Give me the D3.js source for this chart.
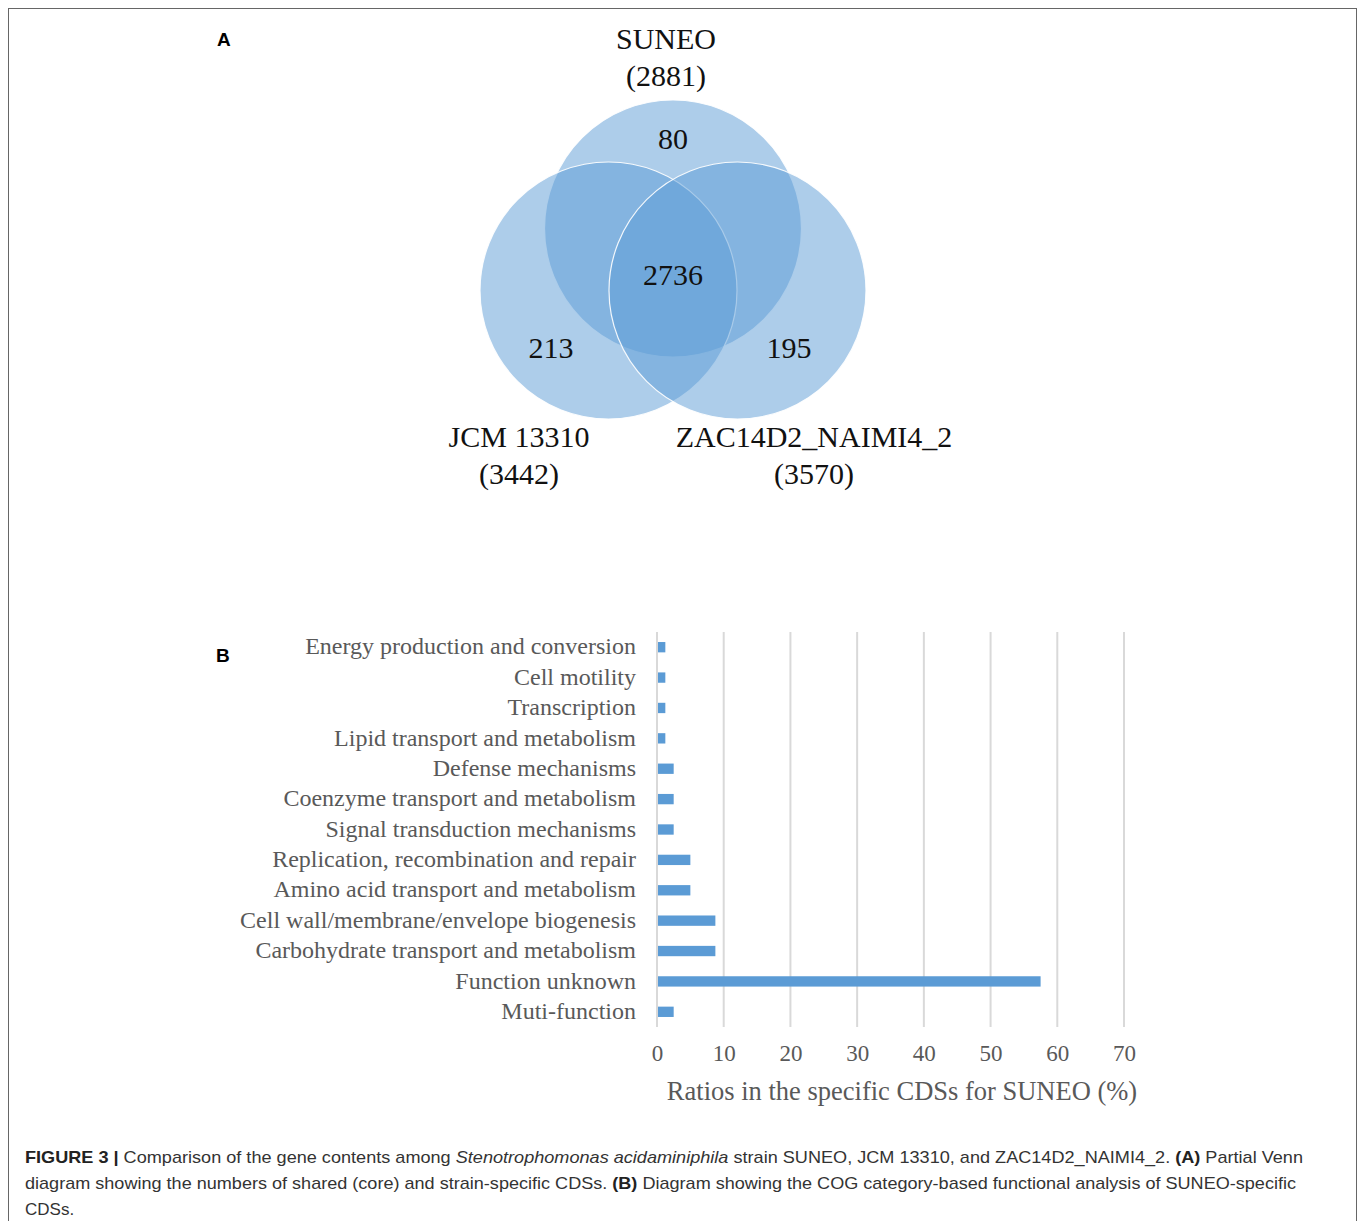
<!DOCTYPE html>
<html>
<head>
<meta charset="utf-8">
<script src="https://cdn.jsdelivr.net/npm/d3@7"></script>
<style>
  html, body { margin: 0; padding: 0; background: #fff; }
  svg { display: block; }
</style>
</head>
<body>
<svg id="fig" width="1358" height="1221"></svg>
<script>
// Venn panel data
const strainNames = ["SUNEO", "JCM 13310", "ZAC14D2_NAIMI4_2"];
const strainTotals = [2881, 3442, 3570];
const regionNames = ["SUNEO only", "core", "JCM 13310 only", "ZAC14D2_NAIMI4_2 only"];
const regionCounts = [80, 2736, 213, 195];

// COG category panel data (percent of SUNEO-specific CDSs)
const categories = [
  "Energy production and conversion",
  "Cell motility",
  "Transcription",
  "Lipid transport and metabolism",
  "Defense mechanisms",
  "Coenzyme transport and metabolism",
  "Signal transduction mechanisms",
  "Replication, recombination and repair",
  "Amino acid transport and metabolism",
  "Cell wall/membrane/envelope biogenesis",
  "Carbohydrate transport and metabolism",
  "Function unknown",
  "Muti-function"
];
const ratios = [1.25, 1.25, 1.25, 1.25, 2.5, 2.5, 2.5, 5, 5, 8.75, 8.75, 57.5, 2.5];
const xTicks = [0, 10, 20, 30, 40, 50, 60, 70];
const xTitle = "Ratios in the specific CDSs for SUNEO (%)";

const svg = d3.select("#fig");
const serif = "'Liberation Serif', 'Times New Roman', serif";
const sans = "'Liberation Sans', Arial, Helvetica, sans-serif";

// figure frame
svg.append("rect")
  .attr("x", 8.5).attr("y", 8.5)
  .attr("width", 1348).attr("height", 1230)
  .attr("fill", "none").attr("stroke", "#666").attr("stroke-width", 1);

// panel letters
svg.append("text").attr("x", 217).attr("y", 46)
  .attr("font-family", sans).attr("font-weight", "bold").attr("font-size", 19)
  .text("A");
svg.append("text").attr("x", 216).attr("y", 662)
  .attr("font-family", sans).attr("font-weight", "bold").attr("font-size", 19)
  .text("B");

// ---------- Panel A: three-set Venn diagram ----------
const vx = d3.scaleLinear().domain([-1, 1]).range([608.5, 737.5]);
const vy = d3.scaleLinear().domain([0, 1]).range([228.5, 290.5]);
const radius = 128.5;
const circles = [
  { name: strainNames[0], total: strainTotals[0], cx: 0, cy: 0 },
  { name: strainNames[1], total: strainTotals[1], cx: -1, cy: 1 },
  { name: strainNames[2], total: strainTotals[2], cx: 1, cy: 1 }
];

svg.append("g").selectAll("circle").data(circles).join("circle")
  .attr("cx", d => vx(d.cx))
  .attr("cy", d => vy(d.cy))
  .attr("r", radius)
  .attr("fill", "#5b9bd5")
  .attr("fill-opacity", 0.5)
  .attr("stroke", "#ffffff")
  .attr("stroke-width", 1.2)
  .attr("stroke-opacity", 0.9);

// region counts
const regionPos = [
  { x: 673, y: 149 },
  { x: 673, y: 285 },
  { x: 551, y: 358 },
  { x: 789, y: 358 }
];
svg.append("g").selectAll("text").data(regionCounts).join("text")
  .attr("x", (d, i) => regionPos[i].x)
  .attr("y", (d, i) => regionPos[i].y)
  .attr("text-anchor", "middle")
  .attr("font-family", serif)
  .attr("font-size", 30)
  .attr("fill", "#111")
  .text(d => d);

// set names with totals
const namePos = [
  { x: 666, y: 49 },
  { x: 519, y: 447 },
  { x: 814, y: 447 }
];
const nameG = svg.append("g").selectAll("text").data(circles).join("text")
  .attr("text-anchor", "middle")
  .attr("font-family", serif)
  .attr("font-size", 30)
  .attr("fill", "#111");
nameG.append("tspan")
  .attr("x", (d, i) => namePos[i].x)
  .attr("y", (d, i) => namePos[i].y)
  .text(d => d.name);
nameG.append("tspan")
  .attr("x", (d, i) => namePos[i].x)
  .attr("y", (d, i) => namePos[i].y + 37)
  .text(d => "(" + d.total + ")");

// ---------- Panel B: horizontal bar chart ----------
const x = d3.scaleLinear().domain([0, 70]).range([657, 1124]);
const y = d3.scaleBand().domain(categories).range([632, 1027]).paddingInner(0.66).paddingOuter(0.33);

const grid = svg.append("g");
grid.selectAll("line").data(xTicks).join("line")
  .attr("x1", d => x(d)).attr("x2", d => x(d))
  .attr("y1", 632).attr("y2", 1027)
  .attr("stroke", "#d9d9d9").attr("stroke-width", 2);

svg.append("g").selectAll("rect").data(categories).join("rect")
  .attr("x", x(0) + 1)
  .attr("y", d => y(d))
  .attr("width", (d, i) => x(ratios[i]) - x(0) - 1)
  .attr("height", y.bandwidth())
  .attr("fill", "#5b9bd5");

// category labels
const yAxis = svg.append("g")
  .attr("transform", `translate(${x(0)},0)`)
  .call(d3.axisLeft(y).tickSize(0).tickPadding(21));
yAxis.select(".domain").remove();
yAxis.selectAll("text")
  .attr("font-family", serif).attr("font-size", 24).attr("fill", "#595959")
  .attr("dy", "0.3em");

// value axis
const xAxis = svg.append("g")
  .attr("transform", "translate(0,1027)")
  .call(d3.axisBottom(x).tickValues(xTicks).tickSize(0).tickPadding(18).tickFormat(d3.format("d")));
xAxis.select(".domain").remove();
xAxis.selectAll("text")
  .attr("font-family", serif).attr("font-size", 23).attr("fill", "#595959");

svg.append("text")
  .attr("x", 902).attr("y", 1100)
  .attr("text-anchor", "middle")
  .attr("font-family", serif).attr("font-size", 26.5).attr("fill", "#595959")
  .text(xTitle);

// ---------- caption ----------
const cap = svg.append("g")
  .attr("font-family", sans).attr("font-size", 17).attr("fill", "#333");
const line1 = cap.append("text").attr("x", 25).attr("y", 1163);
line1.append("tspan").attr("font-weight", "bold").attr("fill", "#222").text("FIGURE 3 | ");
line1.append("tspan").text("Comparison of the gene contents among ");
line1.append("tspan").attr("font-style", "italic").text("Stenotrophomonas acidaminiphila");
line1.append("tspan").text(" strain SUNEO, JCM 13310, and ZAC14D2_NAIMI4_2. ");
line1.append("tspan").attr("font-weight", "bold").attr("fill", "#222").text("(A)");
line1.append("tspan").text(" Partial Venn");
const line2 = cap.append("text").attr("x", 25).attr("y", 1189);
line2.append("tspan").text("diagram showing the numbers of shared (core) and strain-specific CDSs. ");
line2.append("tspan").attr("font-weight", "bold").attr("fill", "#222").text("(B)");
line2.append("tspan").text(" Diagram showing the COG category-based functional analysis of SUNEO-specific");
cap.append("text").attr("x", 25).attr("y", 1215).text("CDSs.");

// fit caption lines to the column width
const lineWidths = [1278, 1271];
[line1, line2].forEach((t, i) => {
  const w = t.node().getComputedTextLength();
  if (w > 0) t.attr("textLength", lineWidths[i]).attr("lengthAdjust", "spacingAndGlyphs");
});
</script>
</body>
</html>
